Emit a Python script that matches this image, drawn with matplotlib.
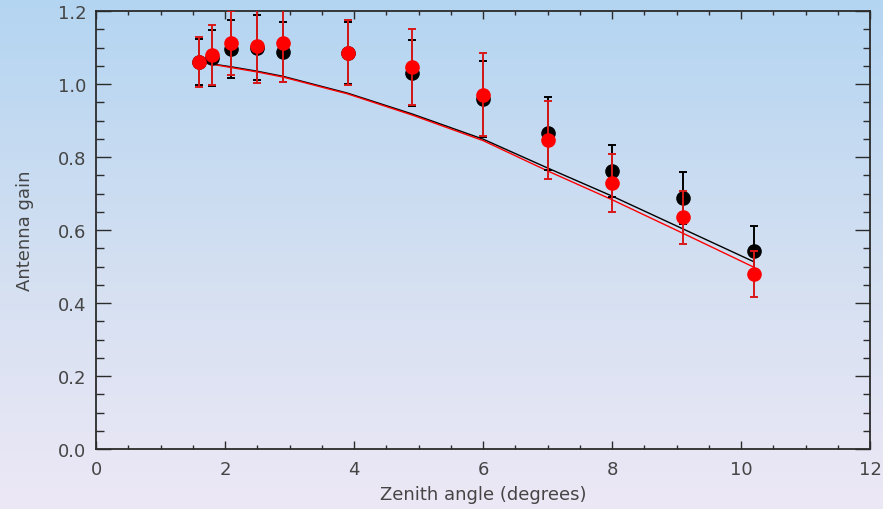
import numpy as np
import matplotlib
matplotlib.use("Agg")
import matplotlib.pyplot as plt
from matplotlib.colors import LinearSegmentedColormap
from matplotlib.ticker import MultipleLocator

# ---- data ----
zenith = [1.6, 1.8, 2.1, 2.5, 2.9, 3.9, 4.9, 6.0, 7.0, 8.0, 9.1, 10.2]

gain_black = [1.060, 1.071, 1.095, 1.100, 1.088, 1.086, 1.030, 0.959, 0.865, 0.762, 0.688, 0.543]
err_black = [0.064, 0.076, 0.079, 0.088, 0.083, 0.085, 0.090, 0.103, 0.100, 0.072, 0.072, 0.069]

gain_red = [1.060, 1.080, 1.113, 1.103, 1.113, 1.086, 1.046, 0.971, 0.846, 0.729, 0.635, 0.479]
err_red = [0.068, 0.083, 0.088, 0.099, 0.108, 0.089, 0.104, 0.114, 0.107, 0.080, 0.072, 0.063]

model_black = [1.060, 1.055, 1.047, 1.035, 1.021, 0.975, 0.918, 0.849, 0.770, 0.693, 0.603, 0.513]
model_red = [1.060, 1.054, 1.045, 1.033, 1.019, 0.973, 0.915, 0.845, 0.762, 0.683, 0.591, 0.498]

xticks = [0, 2, 4, 6, 8, 10, 12]
yticks = [0.0, 0.2, 0.4, 0.6, 0.8, 1.0, 1.2]

# ---- figure ----
fig = plt.figure(figsize=(8.83, 5.10), dpi=100)

bg = fig.add_axes([0, 0, 1, 1], zorder=0)
cmap = LinearSegmentedColormap.from_list("bg", ["#b4d5f2", "#d2dff1", "#ede8f6"])
grad = np.linspace(0, 1, 256).reshape(-1, 1)
bg.imshow(grad, aspect="auto", cmap=cmap, extent=[0, 1, 0, 1], origin="upper")
bg.set_axis_off()

ax = fig.add_axes([96 / 883, 1 - 450 / 510, (870 - 96) / 883, (450 - 12) / 510], zorder=1)
ax.set_facecolor("none")

txt = "#454545"
spine_c = "#2b2b2b"

ax.plot(zenith, model_black, color="black", lw=1.0, zorder=2)
ax.plot(zenith, model_red, color="red", lw=1.0, zorder=2)

ax.errorbar(zenith, gain_black, yerr=err_black, fmt="o", color="black",
            ecolor="black", elinewidth=1.4, capsize=3.2, capthick=1.4,
            markersize=9.5, zorder=3)
ax.errorbar(zenith, gain_red, yerr=err_red, fmt="o", color="red",
            ecolor="#d81818", elinewidth=1.4, capsize=3.2, capthick=1.4,
            markersize=9.5, zorder=4)

ax.set_xlim(0, 12)
ax.set_ylim(0, 1.2)
ax.set_xticks(xticks)
ax.set_yticks(yticks)
ax.set_xticklabels([str(v) for v in xticks])
ax.set_yticklabels([f"{v:.1f}" for v in yticks])
ax.xaxis.set_minor_locator(MultipleLocator(0.5))
ax.yaxis.set_minor_locator(MultipleLocator(0.05))

for s in ax.spines.values():
    s.set_color(spine_c)
    s.set_linewidth(1.3)

ax.tick_params(axis="x", which="major", direction="in", length=5.8, width=1.0,
               top=True, bottom=True, color=spine_c, labelcolor=txt,
               labelsize=13, pad=8)
ax.tick_params(axis="x", which="minor", direction="in", length=2.9, width=1.0,
               top=True, bottom=True, color=spine_c)
ax.tick_params(axis="y", which="major", direction="in", length=10.8, width=1.0,
               left=True, right=True, color=spine_c, labelcolor=txt,
               labelsize=13, pad=7)
ax.tick_params(axis="y", which="minor", direction="in", length=5.4, width=1.0,
               left=True, right=True, color=spine_c)

ax.set_xlabel("Zenith angle (degrees)", fontsize=13, color=txt, labelpad=5)
ax.set_ylabel("Antenna gain", fontsize=13, color=txt, labelpad=17)

fig.savefig("out.png", dpi=100)
